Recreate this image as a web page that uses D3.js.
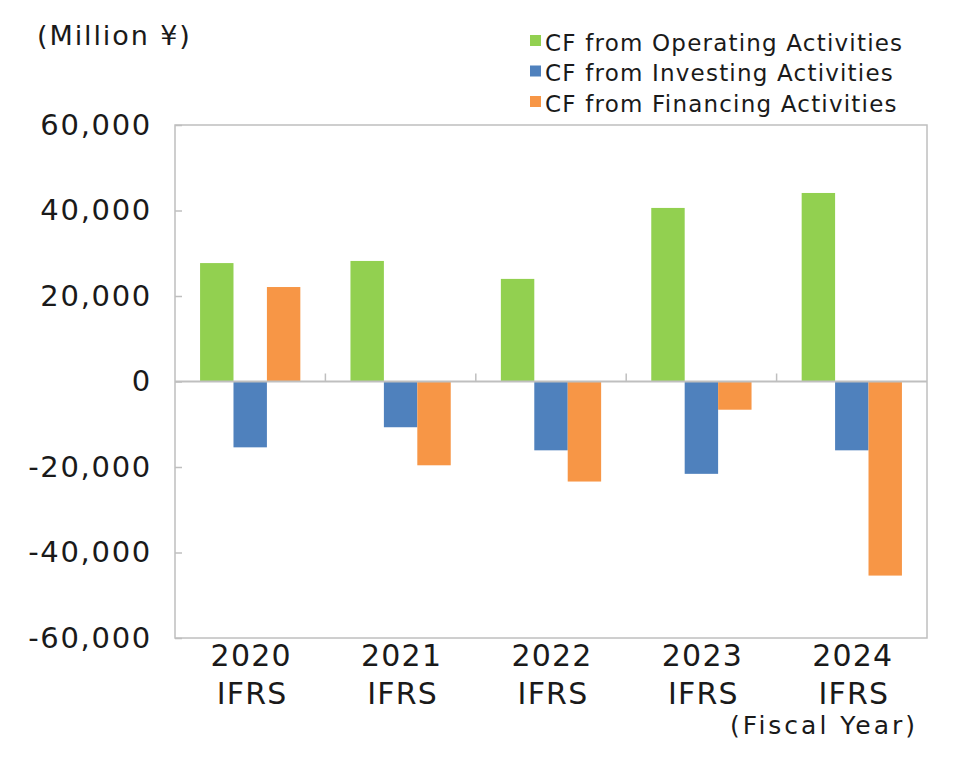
<!DOCTYPE html>
<html><head><meta charset="utf-8">
<script src="https://cdn.jsdelivr.net/npm/d3@7/dist/d3.min.js"></script>
<style>body{margin:0;background:#fff}svg{display:block}text{font-family:"DejaVu Sans",Verdana,sans-serif;fill:#1a1a1a}</style>
</head><body>
<svg id="c" width="953" height="768"></svg>
<script>
const categories = ["2020", "2021", "2022", "2023", "2024"];
const subLabel = "IFRS";
const seriesNames = ["CF from Operating Activities", "CF from Investing Activities", "CF from Financing Activities"];
const operating = [27700, 28200, 24000, 40600, 44100];
const investing = [-15400, -10700, -16100, -21600, -16100];
const financing = [22100, -19600, -23400, -6600, -45400];
const yTicks = [60000, 40000, 20000, 0, -20000, -40000, -60000];
const colors = ["#92d050", "#4f81bd", "#f79646"];
const series = [operating, investing, financing];

const svg = d3.select("#c");
const L = 175, R = 927, T = 125, B = 638;
const grey = "#bfbfbf";

const x0 = d3.scaleBand().domain(categories).range([L, R]).paddingInner(1/3).paddingOuter(1/6);
const x1 = d3.scaleBand().domain(d3.range(3)).range([0, x0.bandwidth()]);
const y = d3.scaleLinear().domain([-60000, 60000]).range([B, T]);

// plot box
svg.append("rect").attr("x", L).attr("y", T).attr("width", R - L).attr("height", B - T)
  .attr("fill", "none").attr("stroke", grey).attr("stroke-width", 1.5);

// y axis
const yAxis = d3.axisLeft(y).tickValues(yTicks).tickSize(-7).tickPadding(23)
  .tickFormat(d3.format(","));
const ya = svg.append("g").attr("transform", `translate(${L},0)`).call(yAxis);
ya.select(".domain").remove();
ya.selectAll(".tick line").attr("stroke", grey).attr("stroke-width", 1.5);
ya.selectAll(".tick text").attr("font-size", 29).attr("fill", "#1a1a1a")
  .attr("letter-spacing", 1.7)
  .style("font-family", '"DejaVu Sans",Verdana,sans-serif').text(d => d3.format(",")(d).replace("−", "-"));

// bars
const groups = svg.append("g").selectAll("g").data(categories).join("g")
  .attr("transform", d => `translate(${x0(d)},0)`);
groups.selectAll("rect").data((d, i) => series.map((s, k) => ({k, v: s[i]}))).join("rect")
  .attr("x", d => x1(d.k)).attr("width", x1.bandwidth())
  .attr("y", d => y(Math.max(0, d.v))).attr("height", d => Math.abs(y(d.v) - y(0)))
  .attr("fill", d => colors[d.k]);

// zero axis with category boundary ticks
const xa = svg.append("g").attr("transform", `translate(0,${y(0)})`);
xa.append("line").attr("x1", L).attr("x2", R).attr("stroke", grey).attr("stroke-width", 2);
const half = x0.step() * x0.paddingInner() / 2;
xa.selectAll("line.tk").data(categories.slice(1)).join("line").attr("class", "tk")
  .attr("x1", d => x0(d) - half).attr("x2", d => x0(d) - half)
  .attr("y1", 0).attr("y2", -8).attr("stroke", grey).attr("stroke-width", 1.5);

// category labels
const cl = svg.append("g");
cl.selectAll("text.yr").data(categories).join("text").attr("class", "yr")
  .attr("x", d => x0(d) + x0.bandwidth() / 2 + 1).attr("y", 666).attr("text-anchor", "middle")
  .attr("font-size", 30).attr("letter-spacing", 1.2).text(d => d);
cl.selectAll("text.sub").data(categories).join("text").attr("class", "sub")
  .attr("x", d => x0(d) + x0.bandwidth() / 2 + 2).attr("y", 704).attr("text-anchor", "middle")
  .attr("font-size", 30).attr("letter-spacing", 1.2).text(subLabel);

svg.append("text").attr("x", 918).attr("y", 734).attr("text-anchor", "end").attr("font-size", 25)
  .attr("letter-spacing", 3).text("(Fiscal Year)");
svg.append("text").attr("x", 37).attr("y", 45).attr("font-size", 27).attr("letter-spacing", 1.9).text("(Million ¥)");

// legend
const lg = svg.append("g").selectAll("g").data(seriesNames).join("g")
  .attr("transform", (d, i) => `translate(530,${35 + i * 30.5})`);
lg.append("rect").attr("width", 11).attr("height", 11).attr("fill", (d, i) => colors[i]);
lg.append("text").attr("x", 15).attr("y", 15.5).attr("font-size", 23).attr("letter-spacing", 1.2).text(d => d);
</script>
</body></html>
